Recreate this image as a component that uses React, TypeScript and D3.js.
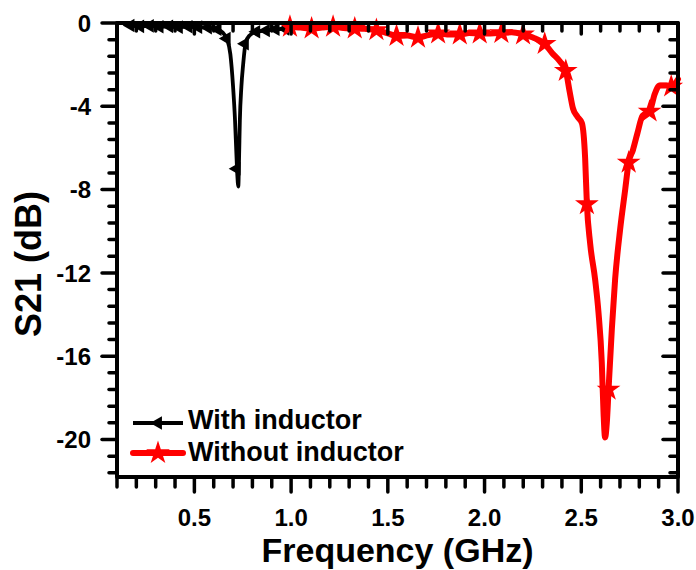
import React from 'react';
import * as d3 from 'd3';

// ---------- data ----------
const xMajorTicks = [0.5, 1.0, 1.5, 2.0, 2.5, 3.0];
const yMajorTicks = [0, -4, -8, -12, -16, -20];

// "With inductor" (black) line
const withFreq = [0.16, 0.17, 0.22, 0.27, 0.32, 0.37, 0.42, 0.47, 0.52, 0.57, 0.62, 0.645, 0.67, 0.686, 0.7, 0.71, 0.717, 0.722, 0.727, 0.731, 0.735, 0.743, 0.752, 0.765, 0.785, 0.82, 0.87, 0.92, 0.97];
const withS21 = [-0.1, -0.12, -0.16, -0.14, -0.18, -0.16, -0.2, -0.18, -0.2, -0.22, -0.3, -0.45, -0.8, -1.5, -3.05, -4.65, -6.25, -7.3, -7.85, -6.5, -4.7, -3.05, -2.0, -0.95, -0.6, -0.42, -0.36, -0.3, -0.28];
// "With inductor" markers
const withMarkFreq = [0.17, 0.22, 0.27, 0.32, 0.37, 0.42, 0.47, 0.52, 0.57, 0.62, 0.667, 0.718, 0.761, 0.82, 0.87, 0.92, 0.97];
const withMarkS21 = [-0.12, -0.16, -0.14, -0.18, -0.16, -0.2, -0.18, -0.2, -0.22, -0.3, -0.75, -7.0, -1.0, -0.42, -0.36, -0.3, -0.28];

// "Without inductor" (red) line
const withoutFreq = [0.994, 1.05, 1.106, 1.16, 1.217, 1.27, 1.329, 1.38, 1.441, 1.5, 1.545, 1.6, 1.656, 1.71, 1.76, 1.82, 1.872, 1.92, 1.975, 2.03, 2.087, 2.14, 2.199, 2.25, 2.311, 2.35, 2.39, 2.42, 2.44, 2.457, 2.48, 2.503, 2.52, 2.529, 2.546, 2.572, 2.589, 2.606, 2.615, 2.623, 2.632, 2.641, 2.658, 2.675, 2.701, 2.727, 2.745, 2.767, 2.79, 2.817, 2.853, 2.88, 2.905, 2.94, 2.965, 3.0];
const withoutS21 = [-0.18, -0.22, -0.26, -0.22, -0.18, -0.24, -0.26, -0.28, -0.34, -0.5, -0.62, -0.6, -0.7, -0.58, -0.5, -0.55, -0.55, -0.48, -0.5, -0.5, -0.48, -0.45, -0.55, -0.7, -1.0, -1.45, -1.85, -2.3, -3.3, -4.1, -4.5, -4.8, -6.5, -8.7, -10.6, -12.35, -13.9, -16.3, -18.7, -19.9, -19.2, -17.6, -14.7, -12.3, -9.9, -8.0, -6.7, -6.1, -5.3, -4.45, -4.25, -3.4, -3.0, -3.0, -3.05, -2.7];
// "Without inductor" markers
const withoutMarkFreq = [0.994, 1.106, 1.217, 1.329, 1.441, 1.545, 1.656, 1.76, 1.872, 1.975, 2.087, 2.199, 2.311, 2.42, 2.529, 2.641, 2.745, 2.853, 2.965];
const withoutMarkS21 = [-0.18, -0.26, -0.18, -0.26, -0.34, -0.62, -0.7, -0.5, -0.55, -0.5, -0.48, -0.55, -1.0, -2.3, -8.7, -17.6, -6.7, -4.25, -3.05];

const seriesNames = ['With inductor', 'Without inductor'];
const seriesColors = ['#000000', '#ff0000'];

// ---------- layout ----------
const W = 696;
const H = 570;
const left = 117;
const right = 678;
const top = 23;
const bottom = 477;
const FONT = '"Liberation Sans", Arial, Helvetica, sans-serif';

export default function App() {
  const x = d3.scaleLinear().domain([0.1, 3.0]).range([left, right]);
  const y = d3.scaleLinear().domain([-21.8, 0]).range([bottom, top]);

  const xMinor = d3.range(1, 31).map((i) => i / 10).filter((v) => v >= 0.1 - 1e-9 && v <= 3.0 + 1e-9 && Math.abs(v * 2 - Math.round(v * 2)) > 1e-6);
  const yMinor = d3.range(0, 28).map((i) => -i * 0.8).filter((v) => v >= -21.8 && Math.abs(v / 4 - Math.round(v / 4)) > 1e-6);

  const line = d3
    .line<[number, number]>()
    .x((d) => x(d[0]))
    .y((d) => y(d[1]))
    .curve(d3.curveMonotoneX);

  const withPts: [number, number][] = withFreq.map((f, i) => [f, withS21[i]]);
  const withoutPts: [number, number][] = withoutFreq.map((f, i) => [f, withoutS21[i]]);

  const triPath = d3.symbol(d3.symbolTriangle, 80)() as string;
  const starPath = d3.symbol(d3.symbolStar, 175)() as string;

  const majorLen = 15;
  const minorLen = 8;
  const tickW = 3.5;

  return (
    <svg width={W} height={H} style={{ position: 'absolute', left: 0, top: 0, background: '#fff' }} fontFamily={FONT}>
      <rect x={0} y={0} width={W} height={H} fill="#fff" />
      {/* series: with inductor */}
      <path d={line(withPts) as string} fill="none" stroke={seriesColors[0]} strokeWidth={3.8} strokeLinejoin="round" strokeLinecap="round" />
      {withMarkFreq.map((f, i) => (
        <path key={'wm' + i} d={triPath} transform={`translate(${x(f)},${y(withMarkS21[i])}) rotate(-90)`} fill={seriesColors[0]} />
      ))}
      {/* series: without inductor */}
      <path d={line(withoutPts) as string} fill="none" stroke={seriesColors[1]} strokeWidth={6} strokeLinejoin="round" strokeLinecap="round" />
      {withoutMarkFreq.map((f, i) => (
        <path key={'rm' + i} d={starPath} transform={`translate(${x(f)},${y(withoutMarkS21[i])})`} fill={seriesColors[1]} />
      ))}

      {/* ticks */}
      <g stroke="#000" strokeWidth={tickW} strokeLinecap="round">
        {xMajorTicks.map((v) => (
          <g key={'xM' + v}>
            <line x1={x(v)} x2={x(v)} y1={bottom} y2={bottom + majorLen} />
            <line x1={x(v)} x2={x(v)} y1={top} y2={top + majorLen - 4} />
          </g>
        ))}
        {xMinor.map((v) => (
          <g key={'xm' + v}>
            <line x1={x(v)} x2={x(v)} y1={bottom} y2={bottom + minorLen + 2} />
            <line x1={x(v)} x2={x(v)} y1={top} y2={top + minorLen} />
          </g>
        ))}
        {yMajorTicks.map((v) => (
          <g key={'yM' + v}>
            <line x1={left} x2={left - majorLen} y1={y(v)} y2={y(v)} />
            <line x1={right} x2={right - majorLen} y1={y(v)} y2={y(v)} />
          </g>
        ))}
        {yMinor.map((v) => (
          <g key={'ym' + v}>
            <line x1={left} x2={left - minorLen} y1={y(v)} y2={y(v)} />
            <line x1={right} x2={right - minorLen} y1={y(v)} y2={y(v)} />
          </g>
        ))}
      </g>

      {/* frame */}
      <rect x={left} y={top} width={right - left} height={bottom - top} fill="none" stroke="#000" strokeWidth={4} strokeLinejoin="round" />

      {/* tick labels */}
      <g fontWeight="bold" fontSize={24} fill="#000">
        {xMajorTicks.map((v) => (
          <text key={'xl' + v} x={x(v)} y={526} textAnchor="middle">
            {v.toFixed(1)}
          </text>
        ))}
        {yMajorTicks.map((v) => (
          <text key={'yl' + v} x={91} y={y(v)} dy="0.36em" textAnchor="end">
            {String(v)}
          </text>
        ))}
      </g>

      {/* axis titles */}
      <text x={(left + right) / 2} y={562} textAnchor="middle" fontWeight="bold" fontSize={34}>
        Frequency (GHz)
      </text>
      <text transform={`translate(41,264) rotate(-90)`} textAnchor="middle" fontWeight="bold" fontSize={36}>
        S21 (dB)
      </text>

      {/* legend */}
      <g>
        <line x1={133} x2={183} y1={423} y2={423} stroke={seriesColors[0]} strokeWidth={3.8} />
        <path d={triPath} transform={`translate(158,423) rotate(-90)`} fill={seriesColors[0]} />
        <text x={188} y={429} fontWeight="bold" fontSize={27}>
          {seriesNames[0]}
        </text>
        <line x1={133} x2={183} y1={453} y2={453} stroke={seriesColors[1]} strokeWidth={6} strokeLinecap="round" />
        <path d={starPath} transform={`translate(158,453)`} fill={seriesColors[1]} />
        <text x={188} y={461} fontWeight="bold" fontSize={27}>
          {seriesNames[1]}
        </text>
      </g>
    </svg>
  );
}
